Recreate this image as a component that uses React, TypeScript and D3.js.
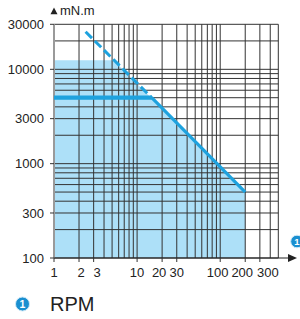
import React from "react";
import * as d3 from "d3";

// tick labels
const xTickValues = [1, 2, 3, 10, 20, 30, 100, 200, 300];
const yTickValues = [100, 300, 1000, 3000, 10000, 30000];

// grid lines (1..9 per decade)
const xGrid = [1, 2, 3, 4, 5, 6, 7, 8, 9, 10, 20, 30, 40, 50, 60, 70, 80, 90, 100, 200, 300, 400, 500];
const yGrid = [100, 200, 300, 400, 500, 600, 700, 800, 900, 1000, 2000, 3000, 4000, 5000, 6000, 7000, 8000, 9000, 10000, 20000, 30000];

// operating zone (light blue area)
const zoneRpm = [1, 1, 5.2, 200, 200];
const zoneTorque = [100, 12500, 12500, 500, 100];

// limit curve: dashed part then solid part
const dashedRpm = [2.4, 15];
const dashedTorque = [25000, 5000];
const solidRpm = [15, 200];
const solidTorque = [5000, 500];

// nominal torque (thick horizontal)
const nominalRpm = [1, 15];
const nominalTorque = [5000, 5000];

const W = 300;
const H = 319;
const BLUE = "#1ea2de";
const FILL = "#ade0f8";
const FONT = "'Liberation Sans', Arial, sans-serif";

// small label nudges, the printed labels are packed a bit
const labelShift = (v: number) => {
  if (v === 2) return 2;
  if (v === 3) return 3.5;
  if (v === 20) return -3;
  if (v === 100) return -2.5;
  if (v === 200) return -3;
  if (v === 300) return 8;
  return 0;
};

export default function App() {
  const x = d3.scaleLog().domain([1, 500]).range([54, 278.3]);
  const y = d3.scaleLog().domain([100, 30000]).range([258, 24.3]);

  const line = d3
    .line<[number, number]>()
    .x((d) => x(d[0]))
    .y((d) => y(d[1]));

  const zip = (a: number[], b: number[]) => a.map((v, i) => [v, b[i]] as [number, number]);

  const x0 = x(1);
  const x1 = x(500);
  const yTop = y(30000);
  const yBot = y(100);

  return (
    <svg
      width={W}
      height={H}
      style={{ position: "absolute", left: 0, top: 0, background: "#fff" }}
      fontFamily={FONT}
    >
      {/* zone */}
      <path d={line(zip(zoneRpm, zoneTorque)) + "Z"} fill={FILL} />

      {/* grid */}
      {yGrid.map((v) => (
        <line key={"h" + v} x1={x0} x2={x1} y1={y(v)} y2={y(v)} stroke="#333" strokeWidth={1} />
      ))}
      {xGrid.map((v) => (
        <line
          key={"v" + v}
          x1={x(v)}
          x2={x(v)}
          y1={yTop}
          y2={yBot}
          stroke={v === 1 ? "#9a9a9a" : "#333"}
          strokeWidth={v === 1 ? 2 : 1}
        />
      ))}

      {/* curves */}
      <path d={line(zip(nominalRpm, nominalTorque)) || ""} stroke={BLUE} strokeWidth={4.2} fill="none" />
      <path
        d={line(zip(dashedRpm, dashedTorque)) || ""}
        stroke={BLUE}
        strokeWidth={3}
        strokeDasharray="9,4"
        fill="none"
      />
      <path d={line(zip(solidRpm, solidTorque)) || ""} stroke={BLUE} strokeWidth={3.2} fill="none" />

      {/* x axis */}
      <line x1={x0} x2={288} y1={yBot} y2={yBot} stroke="#222" strokeWidth={1.2} />
      <path d={`M288,${yBot - 4}L297,${yBot}L288,${yBot + 4}Z`} fill="#222" />
      {xTickValues.map((v) => (
        <g key={"xt" + v}>
          <line x1={x(v)} x2={x(v)} y1={yBot} y2={yBot + 4} stroke="#333" />
          <text x={x(v) + labelShift(v)} y={276.5} textAnchor="middle" fontSize={13} fill="#222">
            {v}
          </text>
        </g>
      ))}

      {/* y axis */}
      {yTickValues.map((v) => (
        <g key={"yt" + v}>
          <line x1={x0 - 4} x2={x0} y1={y(v)} y2={y(v)} stroke="#333" />
          <text x={44} y={y(v)} dy="0.35em" textAnchor="end" fontSize={13} fill="#222">
            {v}
          </text>
        </g>
      ))}
      <path d="M54,7.5L57.5,14.3L50.5,14.3Z" fill="#222" />
      <text x={60} y={15} fontSize={13} fill="#222">
        mN.m
      </text>

      {/* badge on axis */}
      <circle cx={297} cy={241.5} r={6.3} fill="#1a8fd0" stroke="#cfe9f7" strokeWidth={1} />
      <text x={297} y={241.5} dy="0.36em" textAnchor="middle" fontSize={9.5} fontWeight="bold" fill="#fff">
        1
      </text>

      {/* legend */}
      <circle cx={22.5} cy={304} r={7} fill="#1a8fd0" stroke="#cfe9f7" strokeWidth={1} />
      <text x={22.5} y={304} dy="0.36em" textAnchor="middle" fontSize={10.5} fontWeight="bold" fill="#fff">
        1
      </text>
      <text x={50} y={311} fontSize={20} fill="#222">
        RPM
      </text>
    </svg>
  );
}
